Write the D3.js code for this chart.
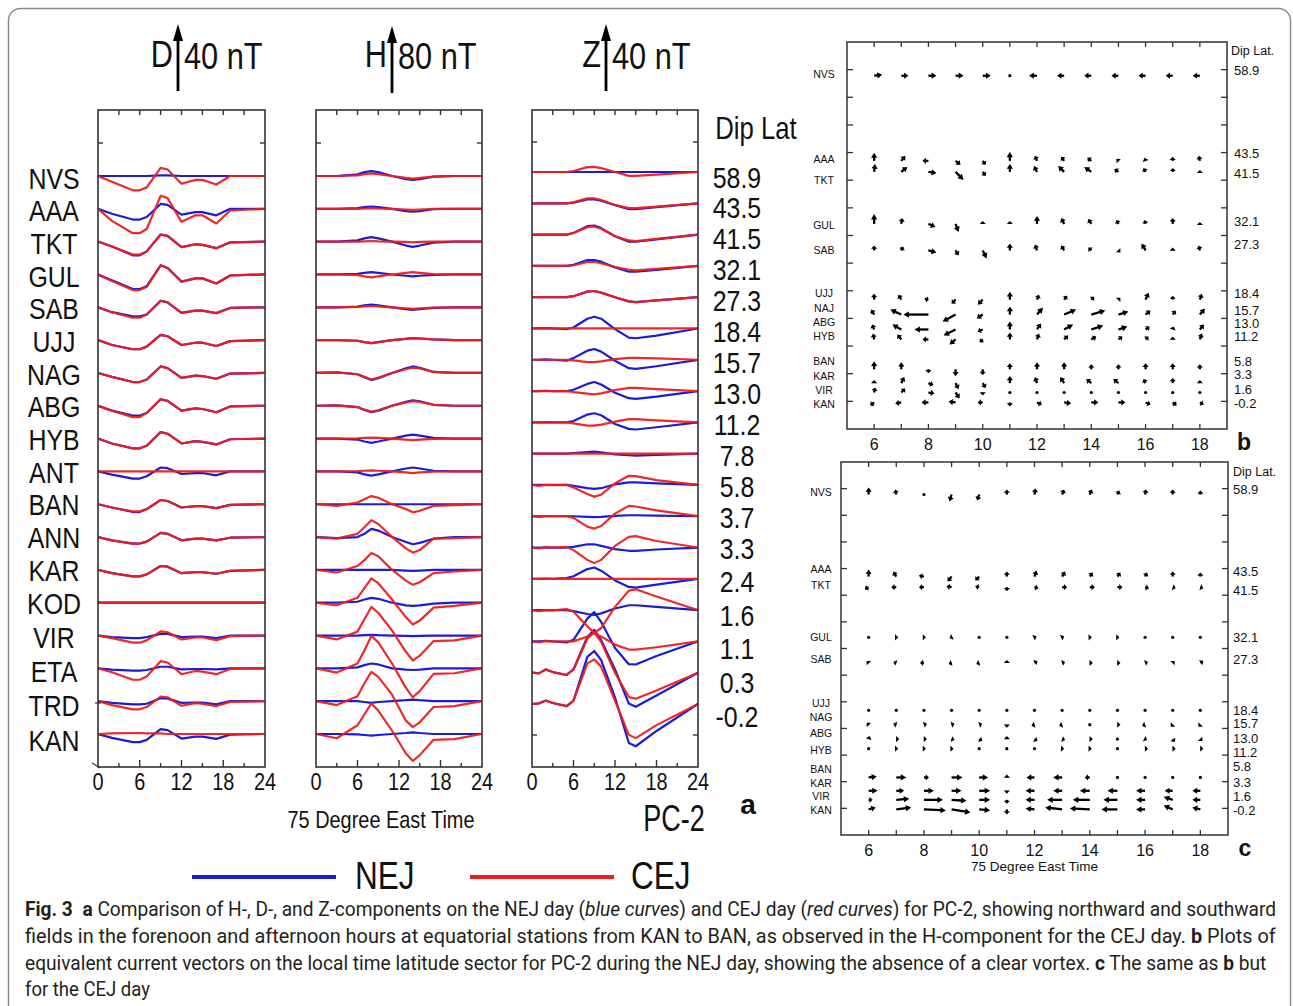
<!DOCTYPE html>
<html>
<head>
<meta charset="utf-8">
<script src="https://cdn.jsdelivr.net/npm/d3@7"></script>
<style>
  body { margin: 0; background: #fff; }
  svg { display: block; }
</style>
</head>
<body>
<svg id="fig" width="1293" height="1006"></svg>
<script>
// ---------------- data ----------------
const stations = ["NVS","AAA","TKT","GUL","SAB","UJJ","NAG","ABG","HYB","ANT","BAN","ANN","KAR","KOD","VIR","ETA","TRD","KAN"];
const dipLats = ["58.9","43.5","41.5","32.1","27.3","18.4","15.7","13.0","11.2","7.8","5.8","3.7","3.3","2.4","1.6","1.1","0.3","-0.2"];
const timeTicks = [0, 6, 12, 18, 24];

// D component (nT), sampled at dHours
const dHours = [0, 2, 5, 6, 7, 9, 10, 12, 14, 15, 17, 19, 24];
const dNEJ = [
  [0,0,0,0,0,0.4,0.4,0,0,0,0,0,0],
  [0,-3,-6.6,-6.6,-5,3,2.4,-3.6,-2,-2,-4,0,0],
  [0,-3,-8.4,-8.4,-6,4.4,3.6,-3.4,-1.6,-2,-4,-0.4,0],
  [0,-3.6,-9,-9,-7.2,5.6,4,-4.4,-2.4,-2.4,-5.6,-0.6,0],
  [0,-3,-5.6,-5.6,-4.4,4,3,-3.4,-2,-2,-3.6,-0.4,0],
  [0,-3,-5.6,-5.6,-4,3.2,2.4,-3,-1.6,-1.6,-3.6,-0.6,0],
  [0,-2.4,-5.6,-5.6,-4,4,3,-3,-1.6,-2,-3.6,-0.4,0],
  [0,-3,-6,-6,-4.4,4,3,-3,-1.6,-2,-4,-0.4,0],
  [0,-3,-6,-6,-4.4,4,3,-3,-1.6,-2,-3.6,-0.4,0],
  [0,-2,-4.4,-4.4,-3,2.4,2,-1.6,-1,-1,-2.4,0,0],
  [0,-2,-4.8,-4.8,-3,2.6,2,-2,-1.2,-1.2,-2.4,-0.4,0],
  [0,-2,-4,-4,-2.8,2.6,2,-2,-1,-1,-2,-0.4,0],
  [0,-2,-4,-4,-2.8,2.4,2,-2,-1.4,-1.4,-2.4,-0.6,0],
  [0,0,0,0,0,0,0,0,0,0,0,0,0],
  [0,-1,-1.6,-1.6,-1,1,1,-1,-0.6,-0.6,-1.6,0,0],
  [0,-0.8,-1.4,-1.4,-1,1,1,-0.6,-0.4,-0.4,-0.6,0,0],
  [0,-1,-2,-2,-1.6,1.8,1.6,-1,-0.8,-0.8,-2,0,0],
  [0,-2.4,-5,-5,-3.6,3,2.4,-2.8,-1.6,-1.6,-3,-0.4,0]
];
const dCEJ = [
  [0,-3.6,-8.8,-8.8,-7,5,4,-4.8,-2.4,-2.4,-5.2,0,0],
  [0,-7.4,-15,-15,-12.4,8,6.6,-8,-4,-4,-9,-1,0],
  [0,-3,-8,-8,-6,4.4,3.6,-3.4,-1.6,-2,-4,-0.4,0],
  [0,-4,-9.6,-9.6,-7.6,5.6,4,-4.4,-2.4,-2.4,-5.6,-0.6,0],
  [0,-3,-6.4,-6.4,-4.4,4,3,-3.4,-2,-2,-3.6,-0.4,0],
  [0,-3,-5.6,-5.6,-4,3.2,2.4,-3,-1.6,-1.6,-3.6,-0.6,0],
  [0,-2.4,-5.6,-5.6,-4,4,3,-3,-1.6,-2,-3.6,-0.4,0],
  [0,-3,-7,-7,-4.4,4,3,-3,-1.6,-2,-4,-0.4,0],
  [0,-3,-6,-6,-4.4,4,3,-3,-1.6,-2,-3.6,-0.4,0],
  [0,0,0,0,0,0,0,0,0,0,0,0,0],
  [0,-2,-4.4,-4.4,-3,2.6,2,-2,-1.2,-1.2,-2.4,-0.4,0],
  [0,-2,-4,-4,-2.8,2.6,2,-2,-1,-1,-2,-0.4,0],
  [0,-2,-4,-4,-2.8,2.4,2,-2,-1.4,-1.4,-2.4,-0.6,0],
  [0,0,0,0,0,0,0,0,0,0,0,0,0],
  [0,-1.6,-4.4,-4.4,-3,2.6,2,-2.4,-1.2,-1.2,-2.8,-0.4,0],
  [0,-2.4,-7,-7,-5,4.4,3.6,-3.6,-1.6,-2,-3.6,-0.4,0],
  [0,-2.4,-5,-5,-3.6,2.8,2.4,-2.8,-1.2,-1.6,-3,-0.4,0],
  [0,0.4,0.6,0.6,0.4,0.4,0,0,0,0,0,0,0]
];

// H component (nT), sampled at hHours
const hHours = [0, 3, 6, 7, 8, 9, 11, 13, 14, 15, 17, 20, 24];
const hNEJ = [
  [0,0,2,4.8,6,4.8,0,-4,-4.8,-4,-0.8,0,0],
  [0,0,0.8,2,2.8,2,0,-2.8,-3.6,-2.8,-0.4,0,0],
  [0,0,1.6,4,5.6,4,0,-4.8,-6.4,-4.8,-1.2,0,0],
  [0,0,0.8,2,2.8,2,0,-1.6,-2.4,-1.6,-0.4,0,0],
  [0,0,0.8,2.4,3.2,2.4,0,-2.4,-3.2,-2.4,-0.8,0,0],
  [0,0,-0.8,-2.4,-3.6,-2.4,0,1.6,2.4,2,0.8,0,0],
  [0,0.8,-1.6,-5.2,-8.8,-6.4,0,5.6,8,6.4,1.2,0,0],
  [0,0.4,-1.6,-5.2,-8,-6,0,4.8,6.8,5.6,1.2,0,0],
  [0,0,-1.2,-3.6,-5.2,-3.6,0,3.6,4.8,3.6,0.8,0,0],
  [0,0,-1.2,-3.6,-5.2,-3.6,0,3.6,4.8,3.6,0.8,0,0],
  [0,0,0,0,0,0,0,0,0,0,0,0,0],
  [0,-1.2,0,4,10,8,0,-6,-8.8,-7.2,-2,0,0],
  [0,0,0,0,0,0,0,-0.8,-1.2,-0.8,0,0,0],
  [0,0,1.2,4,6,4.8,0,-3.2,-4,-3.2,-1.2,0,0],
  [0,0,0,0.4,0.8,0.4,0,-0.4,-0.8,-0.4,0,0,0],
  [0,0,1.2,4,6,4.8,0,-1.6,-2,-1.6,0,0,0],
  [0,0,0,-1,-2,-1,0,1.2,2,1.2,0,0,0],
  [0,0,-0.4,-1.2,-2,-1.2,0,1.2,2,1.2,0,0,0]
];
const hCEJ = [
  [0,0,0.8,2.4,3.2,2.4,0,-2.4,-3.2,-2.4,-0.8,0,0],
  [0,0,0,0.4,0.8,0.4,0,-0.8,-1.2,-0.8,0,0,0],
  [0,0,0,0.4,0.8,0.4,0,-0.4,-0.8,-0.4,0,0,0],
  [0,0,-0.8,-2.4,-3.6,-2.4,0,2,2.8,2,0.4,0,0],
  [0,0,0.4,1.2,1.6,1.2,0,-1.2,-2,-1.2,-0.4,0,0],
  [0,0,-0.8,-2.4,-3.6,-2.4,0,1.6,2.4,2,0.8,0,0],
  [0,0.8,-1.6,-4.8,-8,-6,0,4.8,6.4,5.6,1.2,0,0],
  [0,0.4,-1.6,-4.8,-7.2,-5.6,0,4,5.6,4.8,1.2,0,0],
  [0,0,0.4,0.8,1.2,0.8,0,-1.2,-2,-1.2,-0.4,0,0],
  [0,0,0.4,0.8,1.2,0.8,0,-1.2,-2,-1.2,-0.4,0,0],
  [0,-2,2,6,10,8,0,-6,-10,-8,-2,-1.2,0],
  [0,-2,4,12,20.8,16,0,-14,-19.2,-16,-2,-1.2,0],
  [0,-3.2,4.8,12,20.8,16.8,0,-13.2,-18.4,-15.2,-4,-2,0],
  [0,-3.2,6,18,30,24,4,-18,-26.8,-22,-6,-4,0],
  [0,-4.8,4.8,20,35.2,28,6,-20,-30.8,-24.8,-6.8,-6,0],
  [0,-5.2,6,22,40,32,6,-24,-35.6,-28,-6.8,-6,0],
  [0,-4.8,6,22,36,30,8,-24,-32,-26,-7.2,-6,0],
  [0,-5.2,10.8,24,37.6,28.8,4,-24,-33.2,-26,-7.2,-6.4,0]
];

// Z component (nT), sampled at zHours
const zHours = [0, 1, 2, 3, 5, 6, 8, 9, 10, 12, 14, 15, 18, 24];
const zNEJ = [
  [0,0,0,0,0,0,0,0,0,0,0,0,0,0],
  [0,0,0,0,0,0.4,2.4,2.4,1.6,-1.2,-3.6,-3.6,-2.4,0],
  [0,0,0,0,0,1,5.2,5.6,4,-1,-4.4,-4.4,-3,0],
  [0,0,0,0,0,0.6,3.6,3.6,2.6,-1,-3.6,-3.6,-2.4,0],
  [0,0,0,0,0,0.6,3.4,3.8,2.8,0,-2.6,-3,-2,0],
  [0,0,0.2,0,-0.4,0.6,6,7.2,6,-0.4,-5.6,-6,-4.4,0],
  [0,0,0.2,0,-0.6,1,5.6,6.6,5,-0.6,-5.2,-5.6,-4,0],
  [0,0,0.2,0,0,0.8,4.4,5.6,4,-1,-4.4,-4.8,-3.4,0],
  [0,0,0.2,0,0,0.8,4.8,5.6,4.4,-1,-4,-4.4,-3,0],
  [0,0,0,0,0,0.4,1,1.2,0.8,-0.4,-1,-1.2,-0.8,0],
  [0,0,0,0,0,-0.6,-2,-2.4,-2,0.4,1.6,1.6,1,0],
  [0,0,0,0,0,0,-0.4,-0.6,-0.4,0.2,0.6,0.6,0.4,0],
  [0,0,0,0,0,0.4,2,2,1,-1,-2,-2,-1.2,0],
  [0,0,0.2,0,0.4,1.6,6,7,5,-1,-5,-5.4,-3.6,0],
  [0,0,0,0,0,-0.6,-2.4,-3,-2,1,3,3,2,0],
  [0,0,0.4,0,-0.6,1,14,18,12,-4,-14,-14.2,-9,0],
  [0,-0.4,2,0.4,-1.4,2,22,26.4,20,2,-19,-21,-14,0],
  [0,0.4,2.2,0.6,-1.4,2,29,32.6,27,4,-24,-26,-16.6,0]
];
const zCEJ = [
  [0,0,0,0,0,0.6,3,3.2,2.4,0,-2.4,-2.4,-1.6,0],
  [0,0,0,0,0,0.6,3,3,2,-1,-3,-3,-2,0],
  [0,0,0,0,0,1,4.6,5,3.6,-1,-3.6,-4,-2.6,0],
  [0,0,0,0,0,0.4,2.4,2.4,1.6,-0.6,-2.4,-2.8,-1.8,0],
  [0,0,0,0,0,0.6,3.4,3.8,2.8,0,-2.6,-3,-2,0],
  [0,0,0,0,0,0,0,0,0,0,0,0,0,0],
  [0,0,0,0,0,-0.4,-1.4,-1.4,-1,0.4,1.2,1.2,0.8,0],
  [0,0,0,0,0,-0.6,-1.6,-2,-1.4,0.6,2,2,1.2,0],
  [0,0,0,0,0,-0.6,-2,-2,-1.4,0.4,2,2,1.2,0],
  [0,0,0,0,0,0,0,0,0,0,0,0,0,0],
  [0,-0.6,0,-0.2,0,-1.6,-5.6,-7.2,-6,1,5.6,5.4,3,0],
  [0,-0.4,0,0,0,-1,-6.4,-7.6,-6,1.6,6.4,6,3.6,0],
  [0,-0.6,0.4,0,0.4,-1.6,-7.6,-9.6,-7.6,1,6.6,7,4,0],
  [0,0,0,0,0,0,0,0,0,0,0,0,0,0],
  [0,-0.6,0,-0.2,0.6,-1,-10,-14,-11,2,12,12.8,8.4,0],
  [0,-0.4,0.2,0,0,0,3,5,3,-2,-5,-5,-3.6,0],
  [0,-0.4,2,0.4,-1.4,2,21,25,19,0,-15,-16,-11,0],
  [0,0.4,2,0.6,-1.2,2,25,27.4,23,2,-19,-21,-13,0]
];

// Equivalent current vectors [east, north], hourly 6..18
const vecHours = [6,7,8,9,10,11,12,13,14,15,16,17,18];
const latTicks = [0,5,10,15,20,25,30,35,40,45,50,55,60];

const bStations = ["NVS","AAA","TKT","GUL","SAB","UJJ","NAJ","ABG","HYB","BAN","KAR","VIR","KAN"];
const bLats = [58.9,43.5,41.5,32.1,27.3,18.4,15.7,13.0,11.2,5.8,3.3,1.6,-0.2];
const bVectors = [
  [[8,1],[7,0],[8,0],[8,0],[8,0],[0.5,0],[-8,0],[-7,0],[-7,0],[-7,0],[-7,0],[-7,0],[-7,0]],
  [[0,8],[4,5],[-6,0],[5,-4],[3,-4],[0,9],[-2,5],[-3,4],[-4,3],[-2,2],[-1,3],[0,4],[-1,5]],
  [[1,8],[6,5],[8,-1],[8,-8],[3,-4],[0,8],[-3,6],[-6,6],[-7,5],[-4,3],[-2,4],[0,4],[0,2]],
  [[0,10],[1,6],[7,-3],[3,-8],[0,3],[0,3],[0,8],[-3,6],[-3,5],[-2,4],[-1,4],[0,6],[0,2]],
  [[0,5],[2,4],[8,-2],[3,-5],[4,-8],[0,7],[-2,6],[-3,5],[-3,3],[2,-2],[-4,7],[0,3],[-1,5]],
  [[0,6],[-3,5],[-4,1],[-4,-4],[-5,-5],[0,8],[2,5],[3,4],[3,3],[2,2],[3,7],[0,4],[2,6]],
  [[-3,5],[-11,5],[-25,0],[-13,-7],[-6,-4],[0,8],[6,7],[12,5],[14,4],[10,3],[5,4],[3,4],[5,6]],
  [[-2,5],[-9,5],[-14,0],[-12,-6],[-5,-2],[0,8],[4,6],[9,5],[12,4],[9,3],[4,3],[1,3],[4,5]],
  [[-1,6],[-4,5],[-6,0],[-6,-5],[-3,-3],[0,7],[2,6],[4,4],[5,3],[4,3],[3,3],[0,3],[2,6]],
  [[0,8],[0,7],[0,-4],[0,-7],[0,-6],[0,6],[0,7],[0,7],[0,5],[0,5],[0,6],[0,6],[0,5]],
  [[0,3],[3,6],[5,-2],[3,-6],[3,-5],[0,7],[-2,6],[-4,6],[-5,4],[-5,4],[-2,4],[0,5],[0,3]],
  [[1,5],[4,4],[6,-1],[4,-6],[0,-3],[0.5,0],[0.5,0],[1,-1],[1,-1],[1,-1],[0.5,0],[0.5,0],[0.5,0]],
  [[-4,-3],[-6,-1],[-7,0],[-7,1],[-5,0],[0,-4],[5,-2],[7,-1],[7,0],[7,0],[5,-2],[4,-3],[4,-2]]
];

const cStations = ["NVS","AAA","TKT","GUL","SAB","UJJ","NAG","ABG","HYB","BAN","KAR","VIR","KAN"];
const cLats = [58.9,43.5,41.5,32.1,27.3,18.4,15.7,13.0,11.2,5.8,3.3,1.6,-0.2];
const cVectors = [
  [[0,7],[-1,5],[0.5,0],[-2,-7],[-2,-6],[0,5],[1,6],[2,5],[2,5],[2,4],[1,5],[0,5],[0,4]],
  [[0,7],[-3,5],[-5,1],[-4,-5],[-4,-4],[0,5],[2,6],[3,5],[3,4],[3,4],[2,4],[0,5],[0,4]],
  [[-4,-2],[-5,0],[-5,0],[-5,1],[-4,1],[0,-4],[4,-1],[5,0],[5,0],[5,0],[4,-1],[3,-1],[3,-1]],
  [[0.5,0],[2,0],[2,0],[-2,-1],[1,0],[0.5,0],[2,1],[2,1],[2,0],[2,0],[1,0],[0.5,0],[0.5,0]],
  [[-2,2],[-3,1],[-4,0],[-3,-1],[-3,-1],[0,3],[3,2],[3,1],[3,0],[3,0],[3,1],[2,2],[3,2]],
  [[0.5,0],[0.5,0],[0.5,0],[1,1],[0.5,0],[0.5,0],[0.5,0],[0.5,0],[0.5,0],[0.5,0],[0.5,0],[0.5,0],[0.5,0]],
  [[-2,2],[-3,1],[3,1],[3,1],[3,1],[0,-3],[-3,-1],[-3,-1],[0.5,0],[3,0],[-3,-1],[-2,-2],[-2,-2]],
  [[1,3],[3,0],[3,0],[3,-1],[3,-2],[0,3],[3,-2],[3,-1],[3,0],[0.5,0],[2,-1],[2,-3],[2,-2]],
  [[0.5,0],[2,0],[2,0],[2,0],[1,0],[0.5,0],[1,0],[2,0],[2,0],[0.5,0],[3,0],[3,0],[3,0]],
  [[8,1],[10,0],[5,0],[11,0],[9,0],[0,3],[-8,0],[-9,0],[-5,0],[0.5,0],[1,0],[0.5,0],[0.5,0]],
  [[9,0],[8,0],[10,0],[10,0],[11,0],[0,-3],[-9,0],[-9,0],[-10,0],[-10,0],[-9,0],[-8,0],[-8,0]],
  [[4,0],[13,1],[19,0],[15,-1],[11,0],[0,-4],[-9,0],[-15,0],[-17,0],[-14,0],[-9,0],[-9,3],[-8,0]],
  [[7,2],[15,2],[22,-1],[19,-3],[11,-1],[0,-5],[-9,1],[-17,2],[-20,1],[-16,0],[-9,0],[-9,4],[-8,2]]
];

// ---------------- drawing ----------------
const svg = d3.select("#fig");
const FONT = "'Liberation Sans', Arial, Helvetica, sans-serif";
const BLUE = "#1c1cd6";
const RED = "#ee1c1c";
const FRAME = "#333";

function txt(g, x, y, str, o = {}) {
  return g.append("text")
    .attr("transform", `translate(${x},${y}) scale(${o.sx || 1},1)`)
    .attr("text-anchor", o.anchor || "start")
    .attr("font-family", o.family || FONT)
    .attr("font-size", o.size || 14)
    .attr("font-weight", o.weight || "normal")
    .attr("fill", o.fill || "#111")
    .attr("dy", o.dy == null ? "0.35em" : o.dy)
    .text(str);
}

// outer rounded border
svg.append("rect")
  .attr("x", 8.5).attr("y", 8.5).attr("width", 1282).attr("height", 1100)
  .attr("rx", 12).attr("fill", "none").attr("stroke", "#8a8a8a").attr("stroke-width", 1.4);

// ---------- panel a: stacked magnetograms ----------
const gA = svg.append("g");
const aTop = 110, aBot = 767;
const SX = 0.83; // narrow lettering used throughout panel a

const rowDH = d3.scaleLinear().domain([0, stations.length - 1]).range([176, 734]);
const rowZ = d3.scaleLinear().domain([0, stations.length - 1]).range([172, 704]);
const stationLabelY = d3.scaleLinear().domain([0, 13, 17]).range([178, 603, 740]);
const dipLabelY = d3.scaleLinear().domain([0, 12, 17]).range([177, 548, 716]);

const components = [
  { key: "D", x0: 98, x1: 265, hours: dHours, nej: dNEJ, cej: dCEJ, bar: 40, row: rowDH,
    arrowX: 178, arrowBase: 91, sideTicks: [143], leftOnly: [703] },
  { key: "H", x0: 316, x1: 482, hours: hHours, nej: hNEJ, cej: hCEJ, bar: 80, row: rowDH,
    arrowX: 392, arrowBase: 93, sideTicks: [143], leftOnly: [] },
  { key: "Z", x0: 532, x1: 698, hours: zHours, nej: zNEJ, cej: zCEJ, bar: 40, row: rowZ,
    arrowX: 606, arrowBase: 91, sideTicks: [142, 735], leftOnly: [] }
];
const barPx = 65; // length of the scale arrow

components.forEach(c => {
  const x = d3.scaleLinear().domain([0, 24]).range([c.x0, c.x1]);
  const amp = d3.scaleLinear().domain([0, c.bar]).range([0, barPx]);
  const g = gA.append("g");

  const clipId = "clip" + c.key;
  g.append("clipPath").attr("id", clipId).append("rect")
    .attr("x", c.x0).attr("y", aTop).attr("width", c.x1 - c.x0).attr("height", aBot - aTop);

  const curves = g.append("g").attr("clip-path", `url(#${clipId})`);
  const line = (vals, i) => d3.line()
    .x((v, j) => x(c.hours[j]))
    .y(v => c.row(i) - amp(v))(vals);

  c.nej.forEach((vals, i) => {
    curves.append("path").attr("d", line(vals, i)).attr("fill", "none")
      .attr("stroke", BLUE).attr("stroke-width", 2.2).attr("stroke-linejoin", "round");
  });
  c.cej.forEach((vals, i) => {
    curves.append("path").attr("d", line(vals, i)).attr("fill", "none")
      .attr("stroke", RED).attr("stroke-width", 2.2).attr("stroke-linejoin", "round")
      .attr("stroke-opacity", 0.95);
  });

  g.append("rect").attr("x", c.x0).attr("y", aTop).attr("width", c.x1 - c.x0).attr("height", aBot - aTop)
    .attr("fill", "none").attr("stroke", FRAME).attr("stroke-width", 1.6);

  const hrs = d3.range(3, 24, 3);
  g.selectAll(null).data(hrs).join("line")
    .attr("x1", d => x(d)).attr("x2", d => x(d))
    .attr("y1", aTop).attr("y2", aTop + 5)
    .attr("stroke", FRAME).attr("stroke-width", 1.4);
  g.selectAll(null).data(hrs).join("line")
    .attr("x1", d => x(d)).attr("x2", d => x(d))
    .attr("y1", aBot).attr("y2", d => aBot - (d % 6 === 0 ? 7 : 4))
    .attr("stroke", FRAME).attr("stroke-width", 1.4);

  c.sideTicks.forEach(t => {
    g.append("line").attr("x1", c.x0).attr("x2", c.x0 + 5).attr("y1", t).attr("y2", t)
      .attr("stroke", FRAME).attr("stroke-width", 1.4);
    g.append("line").attr("x1", c.x1).attr("x2", c.x1 - 5).attr("y1", t).attr("y2", t)
      .attr("stroke", FRAME).attr("stroke-width", 1.4);
  });
  c.leftOnly.forEach(t => {
    g.append("line").attr("x1", c.x0 - 3).attr("x2", c.x0 + 3).attr("y1", t).attr("y2", t)
      .attr("stroke", FRAME).attr("stroke-width", 1.2);
  });

  timeTicks.forEach(t => txt(g, x(t), 782, String(t), { size: 24, anchor: "middle", sx: SX }));

  // scale arrow with component name and amplitude
  const yTip = c.arrowBase - amp(c.bar);
  g.append("line").attr("x1", c.arrowX).attr("x2", c.arrowX)
    .attr("y1", c.arrowBase).attr("y2", yTip + 12)
    .attr("stroke", "#000").attr("stroke-width", 2.8);
  g.append("path")
    .attr("d", `M${c.arrowX},${yTip - 2} L${c.arrowX - 5},${yTip + 15} L${c.arrowX + 5},${yTip + 15} Z`)
    .attr("fill", "#000");
  txt(g, c.arrowX - 5, 54, c.key, { size: 37, anchor: "end", sx: SX });
  txt(g, c.arrowX + 6, 56, `${c.bar} nT`, { size: 37, anchor: "start", sx: SX });
});

gA.append("path").attr("d", "M92,763 L100,768").attr("stroke", FRAME).attr("stroke-width", 1.3);

stations.forEach((s, i) => txt(gA, 54, stationLabelY(i), s, { size: 30, anchor: "middle", sx: SX }));
dipLats.forEach((d, i) => txt(gA, 737, dipLabelY(i), d, { size: 30, anchor: "middle", sx: SX }));
txt(gA, 756, 128, "Dip Lat", { size: 31, anchor: "middle", sx: SX });

txt(gA, 381, 820, "75 Degree East Time", { size: 24, anchor: "middle", sx: SX });
txt(gA, 674, 818, "PC-2", { size: 36, anchor: "middle", sx: 0.75 });
txt(gA, 748, 804, "a", { size: 28, anchor: "middle", weight: "bold" });

// legend
const legend = gA.append("g");
[[192, 336, BLUE, 355, "NEJ"], [470, 614, RED, 631, "CEJ"]].forEach(([a, b, col, tx, name]) => {
  legend.append("line").attr("x1", a).attr("x2", b).attr("y1", 877).attr("y2", 877)
    .attr("stroke", col).attr("stroke-width", 4);
  txt(legend, tx, 876, name, { size: 38, anchor: "start", sx: SX });
});

// ---------- panels b and c: equivalent current vectors ----------
function arrow(g, tx, ty, dx, dy) {
  const L = Math.hypot(dx, dy);
  if (L < 1.5) {
    g.append("circle").attr("cx", tx).attr("cy", ty).attr("r", 1.6).attr("fill", "#000");
    return;
  }
  const ux = dx / L, uy = dy / L;
  const hl = Math.min(5.5, Math.max(3.2, L * 0.6)), hw = 3.1;
  const hx = tx + dx, hy = ty + dy;
  const bx = hx - ux * hl, by = hy - uy * hl;
  g.append("line").attr("x1", tx).attr("y1", ty).attr("x2", bx + ux * 0.5).attr("y2", by + uy * 0.5)
    .attr("stroke", "#000").attr("stroke-width", 2.3);
  g.append("path")
    .attr("d", `M${hx},${hy} L${bx - uy * hw},${by + ux * hw} L${bx + uy * hw},${by - ux * hw} Z`)
    .attr("fill", "#000");
}

function vectorPanel(o) {
  const g = svg.append("g");
  const x = d3.scaleLinear().domain([5, 19]).range([o.x0, o.x1]);
  const y = d3.scaleLinear().domain([-5, 65]).range([o.y1, o.y0]);
  const vec = d3.scaleLinear().domain([0, 10]).range([0, 10]);

  g.append("rect").attr("x", o.x0).attr("y", o.y0).attr("width", o.x1 - o.x0).attr("height", o.y1 - o.y0)
    .attr("fill", "none").attr("stroke", FRAME).attr("stroke-width", 1.5);

  vecHours.forEach(h => {
    g.append("line").attr("x1", x(h)).attr("x2", x(h)).attr("y1", o.y0).attr("y2", o.y0 + 5)
      .attr("stroke", FRAME).attr("stroke-width", 1.3);
    g.append("line").attr("x1", x(h)).attr("x2", x(h)).attr("y1", o.y1).attr("y2", o.y1 - 5)
      .attr("stroke", FRAME).attr("stroke-width", 1.3);
  });
  latTicks.forEach(l => {
    g.append("line").attr("x1", o.x0).attr("x2", o.x0 + 6).attr("y1", y(l)).attr("y2", y(l))
      .attr("stroke", FRAME).attr("stroke-width", 1.3);
    g.append("line").attr("x1", o.x1).attr("x2", o.x1 - 6).attr("y1", y(l)).attr("y2", y(l))
      .attr("stroke", FRAME).attr("stroke-width", 1.3);
  });
  vecHours.filter(h => h % 2 === 0).forEach(h =>
    txt(g, x(h), o.y1 + 15, String(h), { size: 16, anchor: "middle" }));

  o.vectors.forEach((row, i) => {
    row.forEach(([e, n], j) => {
      arrow(g, x(vecHours[j]), y(o.lats[i]), vec(e), -vec(n));
    });
  });

  o.names.forEach((s, i) => txt(g, o.nameX, o.nameY[i], s, { size: 10.5, anchor: "middle" }));
  o.lats.forEach((l, i) => txt(g, o.latX, o.latY[i], l.toFixed(1), { size: 13, anchor: "start" }));
  txt(g, o.dipX, o.dipY, "Dip Lat.", { size: 12.5, anchor: "start" });
  txt(g, o.x1 + 17, o.y1 + 13, o.letter, { size: 23, anchor: "middle", weight: "bold" });
  if (o.title) txt(g, (o.x0 + o.x1) / 2, o.y1 + 31, o.title, { size: 13.5, anchor: "middle" });
}

vectorPanel({
  x0: 847, x1: 1227, y0: 42, y1: 429,
  names: bStations, lats: bLats, vectors: bVectors, letter: "b",
  nameX: 824, nameY: [74, 159, 180, 225, 250, 293, 308, 322, 336, 361, 376, 390, 404],
  latX: 1234, latY: [70, 153, 173, 221, 244, 293, 310, 323, 336, 361, 374, 389, 403],
  dipX: 1231, dipY: 51
});
vectorPanel({
  x0: 841, x1: 1228, y0: 462, y1: 835,
  names: cStations, lats: cLats, vectors: cVectors, letter: "c", title: "75 Degree East Time",
  nameX: 821, nameY: [492, 569, 585, 637, 659, 703, 717, 733, 750, 769, 783, 796, 810],
  latX: 1233, latY: [489, 571, 590, 637, 659, 710, 723, 738, 752, 766, 782, 796, 810],
  dipX: 1233, dipY: 472
});

// ---------- caption ----------
const cap = svg.append("g").attr("font-family", "Roboto, 'Noto Sans', sans-serif")
  .attr("font-size", 20).attr("fill", "#231f20");
const capLines = [
  { y: 916, w: 1252, parts: [["Fig. 3", "b"], ["\u2002", ""], ["a", "b"], [" Comparison of H-, D-, and Z-components on the NEJ day (", ""], ["blue curves", "i"], [") and CEJ day (", ""], ["red curves", "i"], [") for PC-2, showing northward and southward", ""]] },
  { y: 943, w: 1252, parts: [["fields in the forenoon and afternoon hours at equatorial stations from KAN to BAN, as observed in the H-component for the CEJ day. ", ""], ["b", "b"], [" Plots of", ""]] },
  { y: 970, w: 1242, parts: [["equivalent current vectors on the local time latitude sector for PC-2 during the NEJ day, showing the absence of a clear vortex. ", ""], ["c", "b"], [" The same as ", ""], ["b", "b"], [" but", ""]] },
  { y: 996, w: 125, parts: [["for the CEJ day", ""]] }
];
capLines.forEach(l => {
  const t = cap.append("text").attr("x", 0).attr("y", 0);
  l.parts.forEach(([s, f]) => {
    t.append("tspan").text(s)
      .attr("font-weight", f === "b" ? "bold" : null)
      .attr("font-style", f === "i" ? "italic" : null);
  });
  const natural = t.node().getComputedTextLength();
  t.attr("transform", `translate(25,${l.y}) scale(${l.w / natural},1)`);
});
</script>
</body>
</html>
